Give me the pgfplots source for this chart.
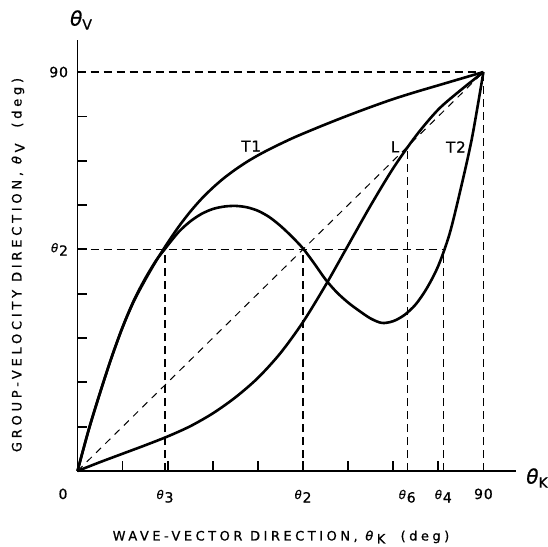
\documentclass[border=0pt]{standalone}
\usepackage{pgfplots}
\pgfplotsset{compat=1.18}
\usepackage{fontspec}
\setmainfont[FakeBold=0.8]{DejaVu Sans}
\newfontfamily\spacedx[LetterSpace=27,FakeBold=0.8]{DejaVu Sans}
\newfontfamily\spacedy[LetterSpace=29,FakeBold=0.8]{DejaVu Sans}
\newfontfamily\tickf[LetterSpace=6,FakeBold=0.8]{DejaVu Sans}
\newcommand{\tht}{\textit{θ}}
\newcommand{\tsub}[1]{{\fontsize{12}{12}\selectfont\tht}\raisebox{-3.5pt}{#1}}
\begin{document}
\begin{tikzpicture}[x=1pt,y=1pt]
\useasboundingbox (-77.5,-75) rectangle (470.5,471);
\begin{axis}[
  at={(0,0)}, anchor=south west,
  x=4.51pt, y=4.433pt,
  xmin=0, xmax=97.2, ymin=0, ymax=97.2,
  clip=false,
  axis lines=left,
  axis line style={line width=1.8pt,-},
  tick align=inside,
  major tick length=0pt,
  minor tick length=10pt,
  every tick/.style={line width=1.7pt,black},
  xtick={19.4,50,73.1,81.1,90},
  xticklabels={\tsub{3},\tsub{2},\tsub{6},\tsub{4},90},
  minor xtick={10,20,30,40,50,60,70,80},
  ytick={50,90},
  yticklabels={\tsub{2},90},
  minor ytick={10,20,30,40,50,60,70,80},
  xticklabel style={font=\tickf\fontsize{14}{14}\selectfont, anchor=base, yshift=-28pt},
  yticklabel style={font=\tickf\fontsize{14}{14}\selectfont, anchor=east, xshift=-6pt},
]
% dashed reference lines
\addplot[black, line width=1.3pt, dash pattern=on 8pt off 5pt] coordinates {(0,90) (90,90)};
\addplot[black, line width=1.3pt, dash pattern=on 8pt off 5pt] coordinates {(90,0) (90,90)};
\addplot[black, line width=1.3pt, dash pattern=on 8pt off 5pt] coordinates {(0,50) (81.1,50)};
\addplot[black, line width=1.3pt, dash pattern=on 8pt off 5pt] coordinates {(19.4,0) (19.4,50)};
\addplot[black, line width=1.3pt, dash pattern=on 8pt off 5pt] coordinates {(50,0) (50,50)};
\addplot[black, line width=1.3pt, dash pattern=on 8pt off 5pt] coordinates {(73.1,0) (73.1,72.8)};
\addplot[black, line width=1.3pt, dash pattern=on 8pt off 5pt] coordinates {(81.1,0) (81.1,50)};
\addplot[black, line width=1pt, dash pattern=on 7pt off 6pt] coordinates {(0,0) (90,90)};
% T1
\addplot[black, line width=2.6pt, smooth] coordinates {
(0,0)(2.5,9.3)(5,17.6)(7.5,25.4)(10,32.4)(12.5,38.3)(15,43.1)(17.5,47.5)(20,51.5)(22.5,55.2)(25,58.5)(27.5,61.4)(30,63.9)(32.5,66.1)(35,68.0)(37.5,69.7)(40,71.2)(42.5,72.55)(45,73.8)(47.5,75.0)(50,76.1)(55,78.2)(60,80.2)(65,82.1)(70,83.9)(75,85.5)(80,87.0)(85,88.5)(90,90)};
% T2 (wavy)
\addplot[black, line width=2.6pt, smooth] coordinates {
(0,0)(2.5,9.4)(5,17.7)(7.5,25.5)(10,32.5)(12.5,38.5)(15,43.4)(17.5,47.6)(19.4,50.1)(20,50.9)(22.5,54.0)(25,56.3)(27.5,58.0)(30,59.1)(32.5,59.65)(35,59.8)(37.5,59.5)(40,58.7)(42.5,57.3)(45,55.3)(47.5,52.9)(50,50.2)(52.5,46.8)(55,43.2)(57.5,40.3)(60,38.0)(62.5,36.1)(65,34.4)(67.5,33.4)(70,33.8)(72.5,35.2)(75,37.6)(77.5,41.3)(80,46.3)(82.5,53.5)(85,63.8)(87.5,75.3)(90,90)};
% L
\addplot[black, line width=2.6pt, smooth] coordinates {
(0,0)(5,2.0)(10,3.9)(15,5.8)(20,7.8)(25,10.1)(30,13.0)(35,16.6)(40,21.0)(45,26.6)(50,33.6)(55,41.9)(60,50.9)(65,59.9)(70,68.3)(75,75.55)(80,81.55)(85,85.95)(90,90)};
% curve labels
\node[font=\tickf\fontsize{15}{15}\selectfont] at (axis cs:38.5,73.3) {T1};
\node[font=\tickf\fontsize{15}{15}\selectfont] at (axis cs:70.4,73.1) {L};
\node[font=\tickf\fontsize{15}{15}\selectfont] at (axis cs:83.9,73.1) {T2};
\end{axis}
% origin label and axis symbols
\node[font=\tickf\fontsize{14}{14}\selectfont, anchor=base] at (-14.5,-28) {0};
\node[anchor=center] at (3.5,451) {{\fontsize{20}{20}\selectfont\tht}\raisebox{-4pt}{\fontsize{14}{14}\selectfont V}};
\node[anchor=center] at (459.5,-7) {{\fontsize{20}{20}\selectfont\tht}\raisebox{-4pt}{\fontsize{14}{14}\selectfont K}};
% axis titles
\node[font=\spacedx\fontsize{13}{13}\selectfont] at (203.5,-66) {WAVE-VECTOR DIRECTION, \tht\raisebox{-3pt}{K} \ (deg)};
\node[font=\spacedy\fontsize{13}{13}\selectfont, rotate=90] at (-59.5,206) {GROUP-VELOCITY DIRECTION, \tht\raisebox{-3pt}{V} \ (deg)};
\end{tikzpicture}
\end{document}
